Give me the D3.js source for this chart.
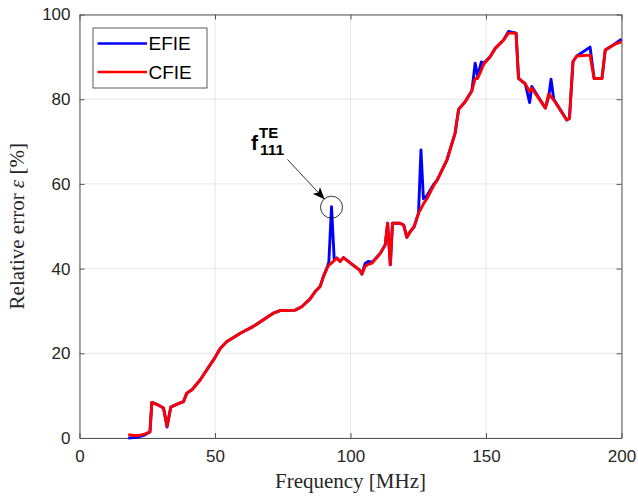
<!DOCTYPE html>
<html>
<head>
<meta charset="utf-8">
<script src="https://cdn.jsdelivr.net/npm/d3@7"></script>
<style>
  body { margin: 0; background: #fff; }
  svg { display: block; }
  .tick text { font-family: "Liberation Sans", Arial, sans-serif; font-size: 17px; fill: #262626; }
</style>
</head>
<body>
<div id="chart"></div>
<script>
// frequency samples (MHz) and relative error (%)
const freq = [18, 20, 22, 24, 26, 26.7, 29, 31, 32.3, 33.7, 36, 38.4, 39.6, 41.5, 44.5, 47, 49.5, 52, 54.4, 57,
  59.5, 64, 68, 71.6, 74, 77, 79.6, 82, 85, 87, 88.8, 90, 91.3, 92, 93, 94, 95, 96.2, 97.4, 100,
  102.4, 103.3, 104.2, 105.4, 106.5, 108, 111, 112.8, 113.7, 114.7, 115.5, 118.3, 119.6, 120.8, 122, 123.5, 125.1, 126, 126.9, 128.2,
  130.6, 131.9, 135.6, 138.6, 139.9, 142.3, 144.8, 146, 146.9, 148.3, 149.1, 151.5, 153.4, 156.5, 158.3, 161.1, 162, 164.5, 166.1, 166.9,
  171.9, 173.1, 174, 175, 179.8, 180.8, 182.1, 183.5, 188.4, 189.9, 192.8, 194, 197, 200];
const cfie = [0.8, 0.6, 0.6, 0.9, 1.5, 8.4, 7.8, 7.1, 2.8, 7.3, 8.0, 8.6, 10.6, 11.4, 13.7, 16.1, 18.5, 21.2, 22.8, 23.8,
  24.8, 26.3, 28.0, 29.5, 30.1, 30.1, 30.2, 31.0, 32.8, 34.6, 35.8, 38.1, 40.1, 40.8, 41.3, 41.9, 42.5, 41.7, 42.6, 41.3,
  40.1, 39.7, 38.7, 40.5, 41.0, 41.3, 43.6, 45.6, 50.7, 40.9, 50.7, 50.7, 50.3, 47.4, 48.7, 49.9, 53.1, 54.1, 55.3, 56.5,
  59.5, 60.8, 65.7, 72.0, 77.6, 79.4, 82.0, 84.9, 84.9, 86.9, 88.2, 90.0, 92.0, 94.0, 95.6, 95.6, 84.9, 83.6, 81.8, 82.6,
  77.9, 81.2, 80.6, 79.8, 75.1, 75.5, 88.9, 90.2, 90.4, 84.9, 84.9, 91.6, 92.8, 93.6];
const efie = [0.0, 0.1, 0.3, 0.7, 1.4, 8.4, 7.8, 7.1, 2.6, 7.3, 8.0, 8.6, 10.6, 11.4, 13.7, 16.1, 18.5, 21.2, 22.8, 23.8,
  24.8, 26.3, 28.0, 29.5, 30.1, 30.1, 30.2, 31.0, 32.8, 34.6, 35.8, 38.1, 40.1, 41.5, 54.6, 42.0, 42.5, 41.7, 42.6, 41.3,
  40.1, 39.7, 38.7, 41.2, 41.7, 41.5, 43.6, 45.6, 50.7, 40.9, 50.7, 50.7, 50.3, 47.4, 48.7, 49.9, 53.1, 68.0, 56.5, 57.2,
  59.8, 60.8, 65.7, 72.0, 77.6, 79.4, 82.0, 88.5, 85.5, 88.8, 88.5, 90.0, 92.0, 94.0, 96.0, 95.6, 84.9, 83.6, 79.2, 83.0,
  77.9, 80.5, 84.7, 80.0, 75.1, 75.5, 88.9, 90.2, 92.3, 84.9, 84.9, 91.6, 92.8, 94.2];
const xTicks = [0, 50, 100, 150, 200];
const yTicks = [0, 20, 40, 60, 80, 100];
const seriesNames = ['EFIE', 'CFIE'];
const seriesColors = ['#0000ff', '#ff0000'];
const markFreq = 93, markErr = 54.5;

const W = 638, H = 500;
const m = { left: 79.5, right: 16.5, top: 14.5, bottom: 62 };
const iw = W - m.left - m.right, ih = H - m.top - m.bottom;

const svg = d3.select('#chart').append('svg').attr('width', W).attr('height', H);
const g = svg.append('g').attr('transform', `translate(${m.left},${m.top})`);

const x = d3.scaleLinear().domain([0, 200]).range([0, iw]);
const y = d3.scaleLinear().domain([0, 100]).range([ih, 0]);

// grid
g.append('g').selectAll('line').data(xTicks).enter().append('line')
  .attr('x1', d => x(d)).attr('x2', d => x(d)).attr('y1', 0).attr('y2', ih)
  .attr('stroke', '#e6e6e6').attr('stroke-width', 1);
g.append('g').selectAll('line').data(yTicks).enter().append('line')
  .attr('x1', 0).attr('x2', iw).attr('y1', d => y(d)).attr('y2', d => y(d))
  .attr('stroke', '#e6e6e6').attr('stroke-width', 1);

// axes (ticks inward, box on)
const axisColor = '#555';
const xAxis = g.append('g').attr('transform', `translate(0,${ih})`)
  .call(d3.axisBottom(x).tickValues(xTicks).tickSizeInner(-5).tickSizeOuter(0).tickPadding(12));
const yAxis = g.append('g')
  .call(d3.axisLeft(y).tickValues(yTicks).tickSizeInner(-5).tickSizeOuter(0).tickPadding(9));
g.append('g').attr('transform', `translate(${iw},0)`)
  .call(d3.axisRight(y).tickValues(yTicks).tickSizeInner(-5).tickSizeOuter(0).tickFormat(''));
g.append('g')
  .call(d3.axisTop(x).tickValues(xTicks).tickSizeInner(-5).tickSizeOuter(0).tickFormat(''));
g.selectAll('.domain, .tick line').attr('stroke', axisColor).attr('stroke-width', 1);
xAxis.selectAll('text').attr('dy', '0.71em');

// curves
const line = d3.line().x(d => x(d[0])).y(d => y(d[1]));
const lines = [d3.zip(freq, efie), d3.zip(freq, cfie)];
lines.forEach((pts, i) => {
  g.append('path').datum(pts).attr('d', line)
    .attr('fill', 'none').attr('stroke', seriesColors[i]).attr('stroke-width', 2.9)
    .attr('stroke-linejoin', 'round');
});

// annotation: circle, arrow, label
const cx = x(markFreq), cy = y(markErr);
g.append('circle').attr('cx', cx).attr('cy', cy).attr('r', 11)
  .attr('fill', 'none').attr('stroke', '#000').attr('stroke-width', 0.8);
svg.append('defs').append('marker').attr('id', 'ah')
  .attr('viewBox', '0 0 12 10').attr('refX', 12).attr('refY', 5)
  .attr('markerWidth', 12).attr('markerHeight', 10).attr('markerUnits', 'userSpaceOnUse')
  .attr('orient', 'auto')
  .append('path').attr('d', 'M0,0 L12,5 L0,10 L3,5 Z').attr('fill', '#000');
g.append('line')
  .attr('x1', 287.5 - m.left).attr('y1', 159.5 - m.top)
  .attr('x2', cx - 7).attr('y2', cy - 8)
  .attr('stroke', '#000').attr('stroke-width', 0.8).attr('marker-end', 'url(#ah)');
const lab = g.append('text').attr('x', 251 - m.left).attr('y', 150 - m.top)
  .attr('font-family', '"Liberation Sans", Arial, sans-serif').attr('font-weight', 'bold').attr('fill', '#000');
lab.append('tspan').attr('font-size', 21).text('f');
lab.append('tspan').attr('font-size', 15).attr('dx', 1).attr('dy', -12).text('TE');
lab.append('tspan').attr('font-size', 15.5).attr('x', 260 - m.left).attr('y', 155 - m.top).text('111');

// legend
const lg = g.append('g').attr('transform', `translate(${93 - m.left},${28 - m.top})`);
lg.append('rect').attr('width', 114).attr('height', 60)
  .attr('fill', '#fff').attr('stroke', '#333').attr('stroke-width', 0.8);
seriesNames.forEach((name, i) => {
  const yy = 15.5 + i * 28.5;
  lg.append('line').attr('x1', 4.5).attr('x2', 54).attr('y1', yy).attr('y2', yy)
    .attr('stroke', seriesColors[i]).attr('stroke-width', 2.6);
  lg.append('text').attr('x', 55.5).attr('y', yy).attr('dy', '0.36em')
    .attr('font-family', '"Liberation Sans", Arial, sans-serif').attr('font-size', 19)
    .attr('fill', '#000').text(name);
});

// axis labels
svg.append('text').attr('x', m.left + iw / 2).attr('y', 488).attr('text-anchor', 'middle')
  .attr('font-family', '"Liberation Serif", "DejaVu Serif", serif').attr('font-size', 21)
  .attr('fill', '#262626').text('Frequency [MHz]');
const yl = svg.append('text').attr('transform', `translate(24,${m.top + ih / 2}) rotate(-90)`)
  .attr('text-anchor', 'middle')
  .attr('font-family', '"Liberation Serif", "DejaVu Serif", serif').attr('font-size', 21)
  .attr('fill', '#262626');
yl.append('tspan').text('Relative error ');
yl.append('tspan').attr('font-style', 'italic').text('ε');
yl.append('tspan').text(' [%]');
</script>
</body>
</html>
